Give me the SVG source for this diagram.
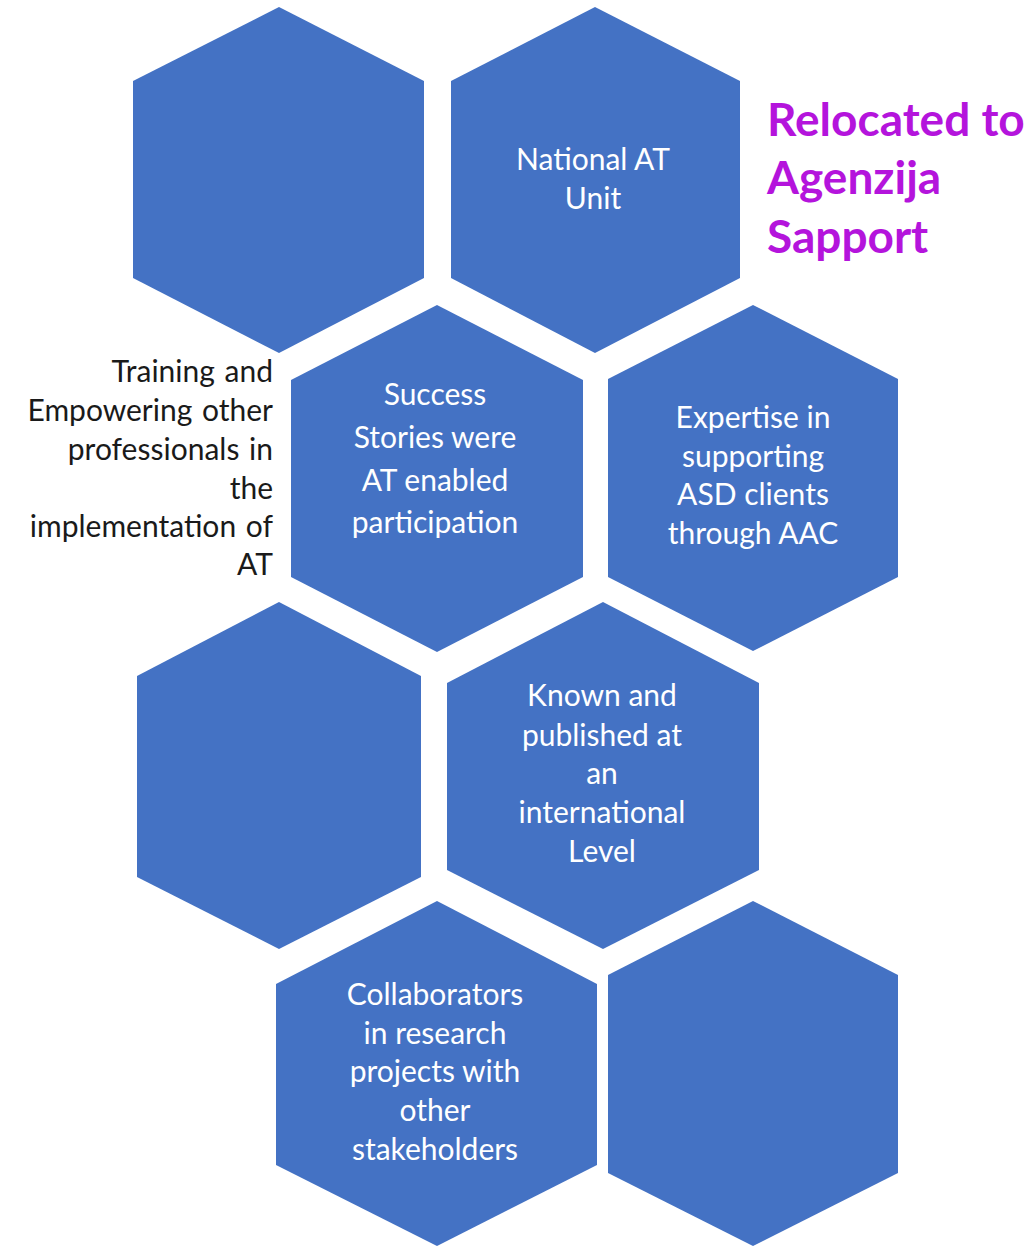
<svg xmlns="http://www.w3.org/2000/svg" width="1036" height="1247" viewBox="0 0 1036 1247">
<style>
.hex{fill:#4472C4}
.t{font-family:Lato,"Liberation Sans",sans-serif;font-size:30px;fill:#ffffff;text-anchor:middle}
.side{font-family:Lato,"Liberation Sans",sans-serif;font-size:30px;fill:#1a1a1a;text-anchor:end;word-spacing:2px}
.title{font-family:Lato,"Liberation Sans",sans-serif;font-size:46px;font-weight:bold;fill:#B414DC}
</style>
<rect width="1036" height="1247" fill="#ffffff"/>
<g id="hex1"><polygon class="hex" points="279,7 424,81 424,278 279,353 133,278 133,81"/></g>
<g id="hex2"><polygon class="hex" points="595,7 740,81 740,278 595,353 451,278 451,81"/>
<text class="t" x="594"><tspan x="593" y="170">National AT</tspan><tspan x="593" y="209">Unit</tspan></text></g>
<g id="hex3"><polygon class="hex" points="437,305 583,380 583,577 437,652 291,577 291,380"/>
<text class="t"><tspan x="435" y="405">Success</tspan><tspan x="435" y="448">Stories were</tspan><tspan x="435" y="491">AT enabled</tspan><tspan x="435" y="533">participation</tspan></text></g>
<g id="hex4"><polygon class="hex" points="753,305 898,379 898,577 753,651 608,577 608,379"/>
<text class="t"><tspan x="753" y="428">Expertise in</tspan><tspan x="753" y="467">supporting</tspan><tspan x="753" y="505">ASD clients</tspan><tspan x="753" y="544">through AAC</tspan></text></g>
<g id="hex5"><polygon class="hex" points="279,602 421,676 421,877 279,949 137,877 137,676"/></g>
<g id="hex6"><polygon class="hex" points="603,602 759,683 759,870 603,949 447,870 447,683"/>
<text class="t"><tspan x="602" y="706">Known and</tspan><tspan x="602" y="746">published at</tspan><tspan x="602" y="784">an</tspan><tspan x="602" y="823">international</tspan><tspan x="602" y="862">Level</tspan></text></g>
<g id="hex7"><polygon class="hex" points="437,901 597,984 597,1165 437,1246 276,1165 276,984"/>
<text class="t"><tspan x="435" y="1005">Collaborators</tspan><tspan x="435" y="1044">in research</tspan><tspan x="435" y="1082">projects with</tspan><tspan x="435" y="1121">other</tspan><tspan x="435" y="1160">stakeholders</tspan></text></g>
<g id="hex8"><polygon class="hex" points="753,901 898,975 898,1173 753,1246 608,1173 608,975"/></g>
<g id="side-label"><text class="side"><tspan x="273" y="382">Training and</tspan><tspan x="273" y="421">Empowering other</tspan><tspan x="273" y="460">professionals in</tspan><tspan x="273" y="499">the</tspan><tspan x="273" y="537">implementation of</tspan><tspan x="273" y="575">AT</tspan></text></g>
<g id="title"><text class="title"><tspan x="767" y="136">Relocated to</tspan><tspan x="767" y="194">Agenzija</tspan><tspan x="767" y="253">Sapport</tspan></text></g>
<g id="connectors"></g>
</svg>
